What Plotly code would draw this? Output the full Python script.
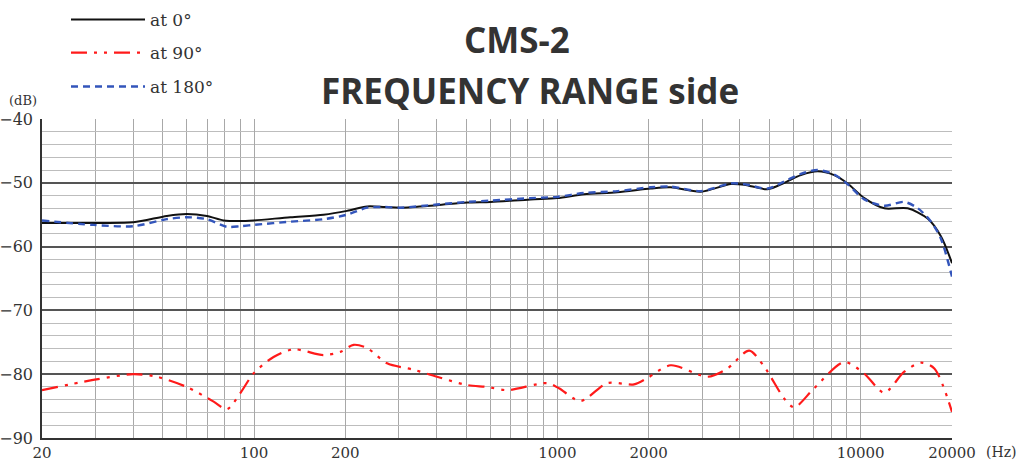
import math
import plotly.graph_objects as go

# ---------------- data ----------------
FREQ_0 = [20, 29.5, 40, 51.6, 60, 69.9, 79.4, 90, 99.6, 131.7, 169.5, 202.6, 236, 270, 304, 401, 504,
          602, 816, 999, 1224, 1577, 2031, 2364, 2970, 3730, 4130, 4930, 5600, 6350, 7210, 8180, 9050,
          10280, 11970, 14290, 16620, 18400, 20000]
DB_0 = [-56.3, -56.3, -56.2, -55.2, -54.9, -55.2, -55.9, -56.0, -55.9, -55.4, -55.0, -54.4, -53.7, -53.8,
        -53.9, -53.5, -53.1, -53.0, -52.6, -52.4, -51.8, -51.5, -50.9, -50.7, -51.4, -50.2, -50.3, -51.0,
        -50.0, -48.8, -48.2, -48.8, -50.1, -52.4, -54.0, -54.0, -55.6, -58.4, -62.6]

FREQ_180 = [20, 29.5, 40, 51.6, 60, 69.9, 81.4, 90, 99.6, 131.7, 169.5, 202.6, 236, 270, 304, 401, 504,
            602, 816, 999, 1224, 1577, 2031, 2364, 2970, 3730, 4130, 4930, 5600, 6350, 7210, 8180, 9050,
            10280, 11970, 13920, 15440, 17060, 18400, 20000]
DB_180 = [-55.9, -56.6, -56.8, -55.7, -55.4, -55.7, -56.9, -56.8, -56.6, -56.1, -55.7, -55.0, -53.9, -53.8,
          -53.9, -53.4, -53.0, -52.8, -52.4, -52.2, -51.6, -51.3, -50.7, -50.6, -51.3, -50.1, -50.2, -50.9,
          -49.8, -48.6, -48.0, -48.7, -50.2, -52.6, -53.6, -53.0, -54.0, -56.1, -58.8, -64.7]

FREQ_90 = [20, 29.5, 40, 47.8, 60, 73.6, 81.4, 90, 99.6, 116, 135, 169.5, 192.6, 213, 236, 274.5, 336, 401,
           504, 587, 683, 926, 1012, 1193, 1461, 1790, 1980, 2364, 3124, 3637, 4288, 4805, 5594, 6035, 7025,
           8825, 10270, 11960, 13920, 15800, 17490, 20000]
DB_90 = [-82.5, -80.9, -80.0, -80.4, -82.0, -84.3, -85.5, -83.0, -79.9, -77.3, -76.1, -77.0, -76.5, -75.4,
         -75.9, -78.3, -79.3, -80.4, -81.7, -82.0, -82.5, -81.4, -82.2, -84.2, -81.4, -81.6, -80.6, -78.6,
         -80.4, -79.1, -76.3, -78.8, -83.8, -85.2, -82.2, -78.1, -79.9, -82.9, -79.6, -78.2, -79.1, -85.9]

SERIES_NAMES = ["at 0°", "at 90°", "at 180°"]

X_TICKS = [20, 100, 200, 1000, 2000, 10000, 20000]
X_TICK_TEXT = ["20", "100", "200", "1000", "2000", "10000", "20000"]
X_MINOR = [30, 40, 50, 60, 70, 80, 90, 300, 400, 500, 600, 700, 800, 900,
           3000, 4000, 5000, 6000, 7000, 8000, 9000]
Y_TICKS = [-90, -80, -70, -60, -50, -40]
Y_TICK_TEXT = ["\u221290", "\u221280", "\u221270", "\u221260", "\u221250", "\u221240"]

TITLE_1 = "CMS-2"
TITLE_2 = "FREQUENCY RANGE side"

# ---------------- figure ----------------
SERIF = "DejaVu Serif"
W, H = 1025, 463
PL, PR, PT, PB = 42, 952, 119, 438   # plot-area pixel box


def paper_x(px):
    return (px - PL) / (PR - PL)


def paper_y(py):
    return (PB - py) / (PB - PT)


fig = go.Figure()
fig.add_trace(go.Scatter(x=FREQ_0, y=DB_0, name=SERIES_NAMES[0], mode="lines",
                         line=dict(color="#111111", width=2, shape="spline", smoothing=0.8),
                         legend="legend"))
fig.add_trace(go.Scatter(x=FREQ_90, y=DB_90, name=SERIES_NAMES[1], mode="lines",
                         line=dict(color="#ff1a1a", width=2.2, shape="spline", smoothing=0.8,
                                   dash="16px,7px,3px,7px,3px,7px"),
                         legend="legend2"))
fig.add_trace(go.Scatter(x=FREQ_180, y=DB_180, name=SERIES_NAMES[2], mode="lines",
                         line=dict(color="#3355bb", width=2.4, shape="spline", smoothing=0.8,
                                   dash="7px,5px"),
                         legend="legend3"))


def leg(py):
    return dict(x=66 / W, y=1 - py / H, xref="container", yref="container",
                xanchor="left", yanchor="middle", bgcolor="rgba(0,0,0,0)",
                font=dict(family=SERIF, size=17, color="#333"), itemwidth=74)


fig.update_layout(
    width=W, height=H,
    margin=dict(l=PL, r=W - PR, t=PT, b=H - PB, autoexpand=False),
    paper_bgcolor="white", plot_bgcolor="white",
    showlegend=True,
    legend=leg(20), legend2=leg(53), legend3=leg(87),
    xaxis=dict(type="log", range=[math.log10(20), math.log10(20000)],
               tickmode="array", tickvals=X_TICKS, ticktext=X_TICK_TEXT,
               showgrid=True, gridcolor="#a8a8a8", gridwidth=1.2,
               minor=dict(tickmode="array", tickvals=X_MINOR, showgrid=True,
                          gridcolor="#a8a8a8", gridwidth=1.2, ticks=""),
               showline=True, linecolor="#333", linewidth=2, ticks="", zeroline=False,
               tickfont=dict(family=SERIF, size=15, color="#333")),
    yaxis=dict(range=[-90, -40], tickmode="array", tickvals=Y_TICKS, ticktext=Y_TICK_TEXT,
               showgrid=True, gridcolor="#555", gridwidth=1.5,
               minor=dict(dtick=2, showgrid=True, gridcolor="#bdbdbd", gridwidth=1, ticks=""),
               showline=True, linecolor="#333", linewidth=1.5, ticks="", zeroline=False,
               ticklabelstandoff=4,
               tickfont=dict(family=SERIF, size=16, color="#333")),
    annotations=[
        dict(text=TITLE_1, x=paper_x(517), y=paper_y(40), xref="paper", yref="paper",
             showarrow=False, font=dict(family="Open Sans", size=35, color="#333", weight="bold"),
             xanchor="center", yanchor="middle"),
        dict(text=TITLE_2, x=paper_x(530), y=paper_y(90), xref="paper", yref="paper",
             showarrow=False, font=dict(family="Open Sans", size=35, color="#333", weight="bold"),
             xanchor="center", yanchor="middle"),
        dict(text="(dB)", x=paper_x(23), y=paper_y(101), xref="paper", yref="paper", showarrow=False,
             font=dict(family=SERIF, size=13, color="#333"), xanchor="center", yanchor="middle"),
        dict(text="(Hz)", x=paper_x(1001), y=paper_y(452), xref="paper", yref="paper", showarrow=False,
             font=dict(family=SERIF, size=14, color="#333"), xanchor="center", yanchor="middle"),
    ],
)

fig.write_html("out.html", config={"displayModeBar": False},
               post_script="document.body.style.margin='0';document.body.style.overflow='hidden';")
